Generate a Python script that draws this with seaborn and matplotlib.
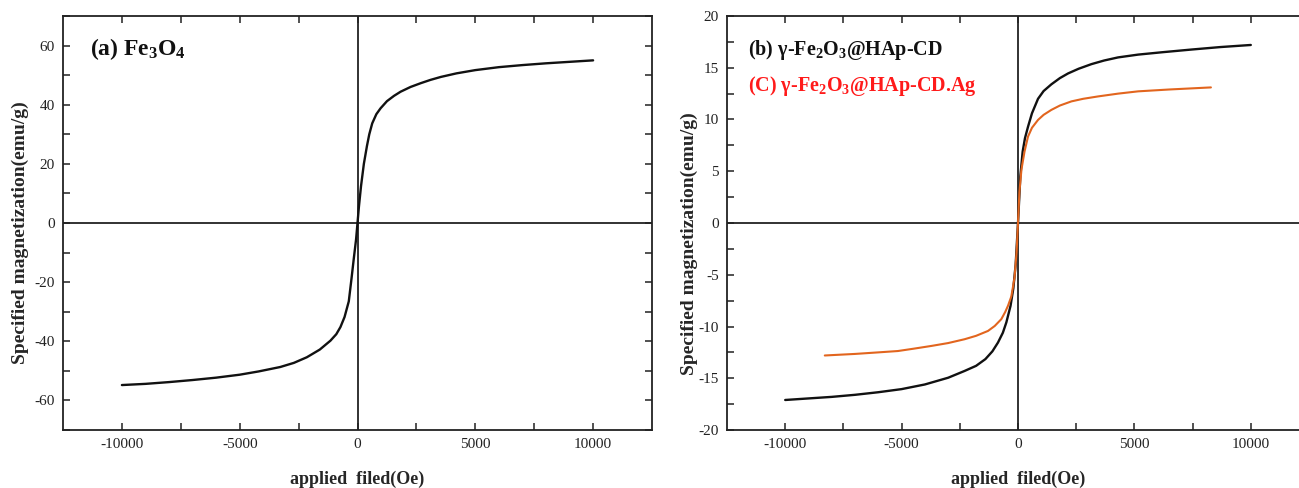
import numpy as np
import pandas as pd
import matplotlib
matplotlib.use("Agg")
import matplotlib.pyplot as plt
import seaborn as sns

# Fe3O4
field_a = [-10000, -9000, -8000, -7000, -6000, -5000, -4200, -3280, -2700, -2150, -1600, -1150, -900, -725,
           -550, -370, -250, -157, -60, 0,
           60, 150, 270, 400, 500, 625, 800, 980, 1250, 1550, 1830, 2250, 2690, 3100, 3540, 4200,
           5000, 6000, 7000, 8000, 9000, 10000]
mag_a = [-54.8, -54.4, -53.8, -53.1, -52.3, -51.3, -50.2, -48.7, -47.3, -45.4, -42.8, -39.8, -37.6, -35.2,
         -31.8, -26.5, -18.5, -12.0, -5.5, 0,
         5.5, 12.5, 20.0, 26.0, 30.0, 33.7, 36.8, 38.8, 41.2, 43.0, 44.4, 46.0, 47.3, 48.4, 49.4, 50.6,
         51.7, 52.7, 53.4, 54.0, 54.5, 55.0]

# gamma-Fe2O3@HAp-CD
field_b = [-10000, -9000, -8000, -7000, -6000, -5000, -4000, -3000, -2300, -1800, -1400, -1100, -860, -650,
           -500, -320, -200, -100, 0,
           100, 200, 300, 430, 600, 860, 1100, 1434, 1800, 2150, 2600, 3155, 3700, 4300, 5160, 6200,
           7455, 8700, 10000]
mag_b = [-17.1, -16.95, -16.8, -16.6, -16.35, -16.05, -15.6, -14.95, -14.3, -13.8, -13.15, -12.4, -11.55, -10.6,
         -9.6, -8.0, -6.3, -4.0, 0,
         4.5, 6.9, 8.2, 9.3, 10.6, 12.0, 12.75, 13.4, 14.0, 14.45, 14.9, 15.35, 15.7, 16.0, 16.27, 16.5,
         16.76, 17.0, 17.2]

# gamma-Fe2O3@HAp-CD.Ag
field_c = [-8300, -7000, -6000, -5160, -4500, -3728, -3000, -2294, -1800, -1290, -1000, -717, -550, -430,
           -287, -150, -60, 0,
           60, 150, 280, 430, 600, 860, 1100, 1434, 1800, 2294, 2800, 3440, 4300, 5160, 6500, 8287]
mag_c = [-12.8, -12.65, -12.5, -12.37, -12.15, -11.88, -11.6, -11.23, -10.9, -10.43, -9.95, -9.29, -8.6, -8.0,
         -7.1, -5.3, -2.8, 0,
         3.0, 5.2, 6.9, 8.35, 9.2, 9.96, 10.45, 10.93, 11.35, 11.75, 12.0, 12.23, 12.5, 12.72, 12.9, 13.1]

sns.set_theme(style="ticks")
plt.rcParams['font.family'] = ['Liberation Serif', 'DejaVu Serif']
plt.rcParams['mathtext.fontset'] = 'custom'
plt.rcParams['mathtext.rm'] = 'Liberation Serif:bold'
plt.rcParams['mathtext.it'] = 'Liberation Serif:bold'
plt.rcParams['mathtext.bf'] = 'Liberation Serif:bold'
plt.rcParams['mathtext.default'] = 'rm'

fig = plt.figure(figsize=(12.99, 4.88), dpi=100)
ax1 = fig.add_axes([63 / 1299, 58 / 488, 589 / 1299, 414 / 488])
ax2 = fig.add_axes([727 / 1299, 58 / 488, 582 / 1299, 414 / 488])

df_a = pd.DataFrame({'field': field_a, 'mag': mag_a})
df_b = pd.DataFrame({'field': field_b, 'mag': mag_b})
df_c = pd.DataFrame({'field': field_c, 'mag': mag_c})

sns.lineplot(data=df_a, x='field', y='mag', ax=ax1, color='#111111', lw=1.7, sort=False, estimator=None)
sns.lineplot(data=df_b, x='field', y='mag', ax=ax2, color='#111111', lw=1.7, sort=False, estimator=None)
sns.lineplot(data=df_c, x='field', y='mag', ax=ax2, color='#e2651e', lw=1.5, sort=False, estimator=None)

for ax, ylim in [(ax1, 70), (ax2, 20)]:
    ax.axhline(0, color='#222222', lw=1.3, zorder=1)
    ax.axvline(0, color='#222222', lw=1.3, zorder=1)
    ax.set_xlim(-12500, 12500)
    ax.set_ylim(-ylim, ylim)
    ax.set_xticks([-10000, -5000, 0, 5000, 10000])
    ax.set_xticks([-7500, -2500, 2500, 7500], minor=True)
    ax.set_xticklabels(['-10000', '-5000', '0', '5000', '10000'])
    ax.tick_params(which='both', direction='in', top=True, right=True, length=5, width=1.1,
                   labelsize=11, colors='#222222', pad=6)
    for s in ax.spines.values():
        s.set_linewidth(1.3)
        s.set_color('#222222')
    ax.set_xlabel('applied  filed(Oe)', fontsize=13, fontweight='bold', labelpad=14)
    ax.set_ylabel('Specified magnetization(emu/g)', fontsize=14, fontweight='bold')

ax1.set_yticks([-60, -40, -20, 0, 20, 40, 60])
ax1.set_yticks([-70, -50, -30, -10, 10, 30, 50, 70], minor=True)
ax1.set_yticklabels(['-60', '-40', '-20', '0', '20', '40', '60'])
ax2.set_yticks([-20, -15, -10, -5, 0, 5, 10, 15, 20])
ax2.set_yticks(np.arange(-17.5, 18, 5), minor=True)
ax2.set_yticklabels(['-20', '-15', '-10', '-5', '0', '5', '10', '15', '20'])

ax1.yaxis.set_label_coords(-0.058, 0.476)
ax2.yaxis.set_label_coords(-0.050, 0.45)

ax1.text(0.046, 0.905, r'(a) Fe$_3$O$_4$', transform=ax1.transAxes, fontsize=17,
         fontweight='bold', va='baseline', color='#111111')
ax2.text(0.036, 0.907, r'(b) γ-Fe$_2$O$_3$@HAp-CD', transform=ax2.transAxes, fontsize=14.5,
         fontweight='bold', va='baseline', color='#111111')
ax2.text(0.036, 0.818, r'(C) γ-Fe$_2$O$_3$@HAp-CD.Ag', transform=ax2.transAxes, fontsize=14.5,
         fontweight='bold', va='baseline', color='#ff1a1a')

fig.savefig('out.png', dpi=100)
